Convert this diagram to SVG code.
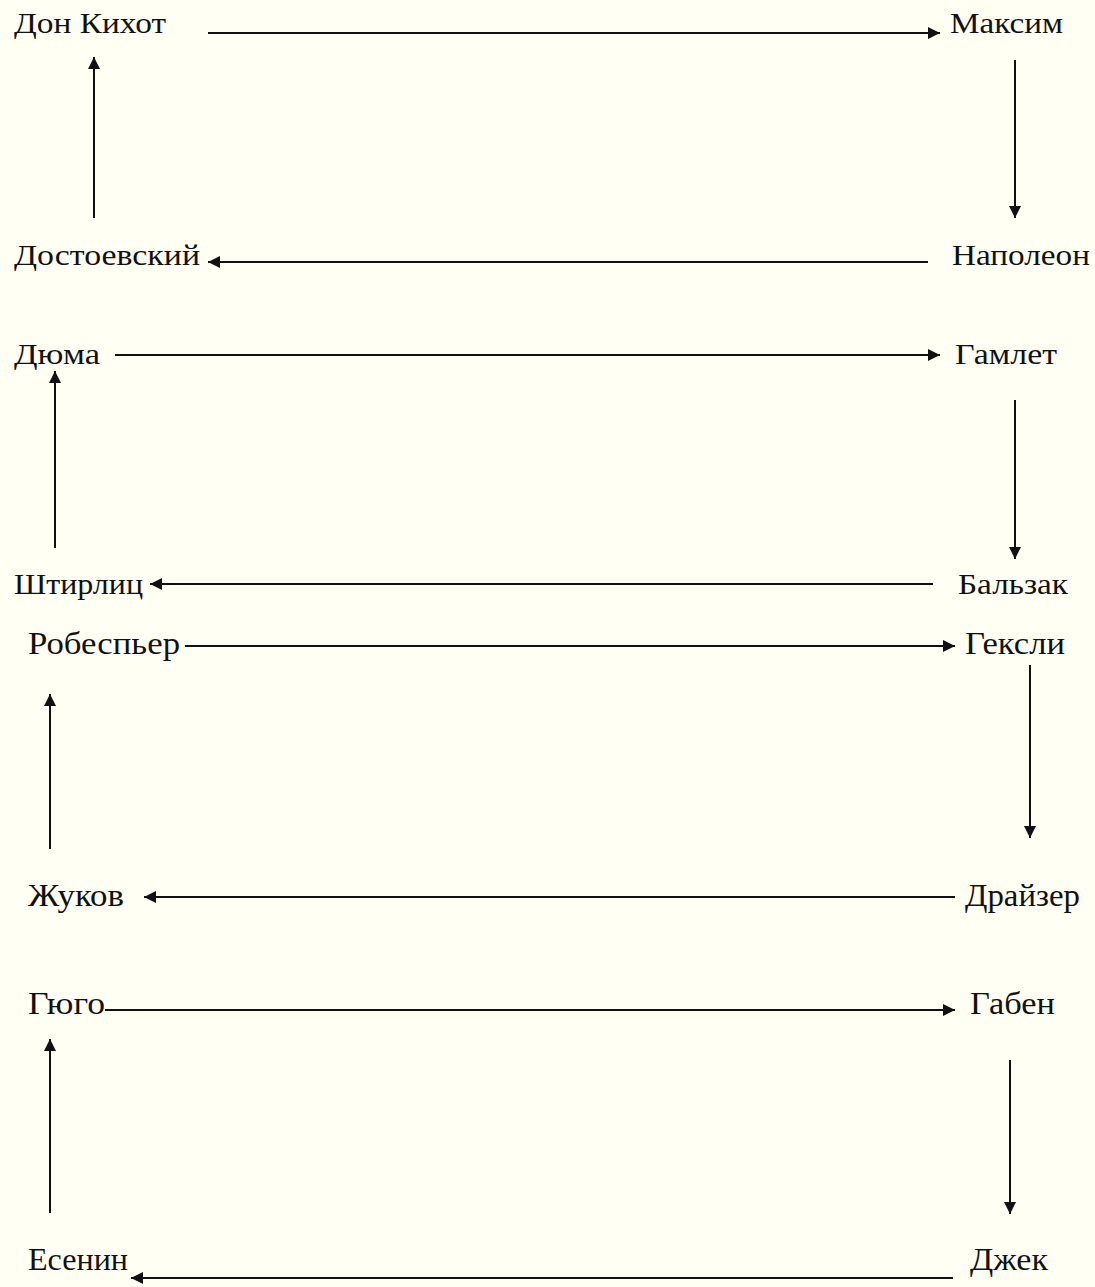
<svg xmlns="http://www.w3.org/2000/svg" width="1095" height="1287" viewBox="0 0 1095 1287">
<style>
.t{font-family:"Liberation Serif","Times New Roman",serif;fill:#111;font-size:29px}
.b{font-size:32px}
.c{stroke:#111;stroke-width:2;fill:none;marker-end:url(#ah)}
</style>
<defs>
<marker id="ah" viewBox="0 0 10 10" refX="10" refY="5" markerWidth="6" markerHeight="6" markerUnits="strokeWidth" orient="auto">
<path d="M0,0 L10,5 L0,10 z" fill="#111"/>
</marker>
</defs>
<rect width="1095" height="1287" fill="#fffff4"/>
<g id="n1"><text class="t" x="14" y="33" textLength="152" lengthAdjust="spacingAndGlyphs">Дон Кихот</text></g>
<g id="n2"><text class="t" x="950" y="33" textLength="113" lengthAdjust="spacingAndGlyphs">Максим</text></g>
<g id="n3"><text class="t" x="952" y="265" textLength="138" lengthAdjust="spacingAndGlyphs">Наполеон</text></g>
<g id="n4"><text class="t" x="14" y="265" textLength="186" lengthAdjust="spacingAndGlyphs">Достоевский</text></g>
<g id="n5"><text class="t" x="14" y="364" textLength="86" lengthAdjust="spacingAndGlyphs">Дюма</text></g>
<g id="n6"><text class="t" x="955" y="364" textLength="102" lengthAdjust="spacingAndGlyphs">Гамлет</text></g>
<g id="n7"><text class="t" x="958" y="594" textLength="110" lengthAdjust="spacingAndGlyphs">Бальзак</text></g>
<g id="n8"><text class="t" x="14" y="594" textLength="129" lengthAdjust="spacingAndGlyphs">Штирлиц</text></g>
<g id="n9"><text class="t b" x="28" y="654" textLength="152" lengthAdjust="spacingAndGlyphs">Робеспьер</text></g>
<g id="n10"><text class="t b" x="965" y="654" textLength="100" lengthAdjust="spacingAndGlyphs">Гексли</text></g>
<g id="n11"><text class="t b" x="965" y="906" textLength="115" lengthAdjust="spacingAndGlyphs">Драйзер</text></g>
<g id="n12"><text class="t b" x="28" y="906" textLength="96" lengthAdjust="spacingAndGlyphs">Жуков</text></g>
<g id="n13"><text class="t b" x="28" y="1014" textLength="77" lengthAdjust="spacingAndGlyphs">Гюго</text></g>
<g id="n14"><text class="t b" x="970" y="1014" textLength="85" lengthAdjust="spacingAndGlyphs">Габен</text></g>
<g id="n15"><text class="t b" x="970" y="1270" textLength="78" lengthAdjust="spacingAndGlyphs">Джек</text></g>
<g id="n16"><text class="t b" x="28" y="1270" textLength="100" lengthAdjust="spacingAndGlyphs">Есенин</text></g>
<g id="connectors">
<line class="c" x1="208" y1="33" x2="940" y2="33"/>
<line class="c" x1="1015" y1="60" x2="1015" y2="218"/>
<line class="c" x1="928" y1="262" x2="208" y2="262"/>
<line class="c" x1="94" y1="218" x2="94" y2="57"/>
<line class="c" x1="115" y1="355" x2="940" y2="355"/>
<line class="c" x1="1015" y1="400" x2="1015" y2="559"/>
<line class="c" x1="933" y1="584" x2="150" y2="584"/>
<line class="c" x1="55" y1="548" x2="55" y2="371"/>
<line class="c" x1="185" y1="646" x2="955" y2="646"/>
<line class="c" x1="1030" y1="665" x2="1030" y2="838"/>
<line class="c" x1="955" y1="897" x2="144" y2="897"/>
<line class="c" x1="50" y1="849" x2="50" y2="694"/>
<line class="c" x1="105" y1="1010" x2="955" y2="1010"/>
<line class="c" x1="1010" y1="1060" x2="1010" y2="1214"/>
<line class="c" x1="953" y1="1278" x2="131" y2="1278"/>
<line class="c" x1="50" y1="1213" x2="50" y2="1039"/>
</g>
</svg>
